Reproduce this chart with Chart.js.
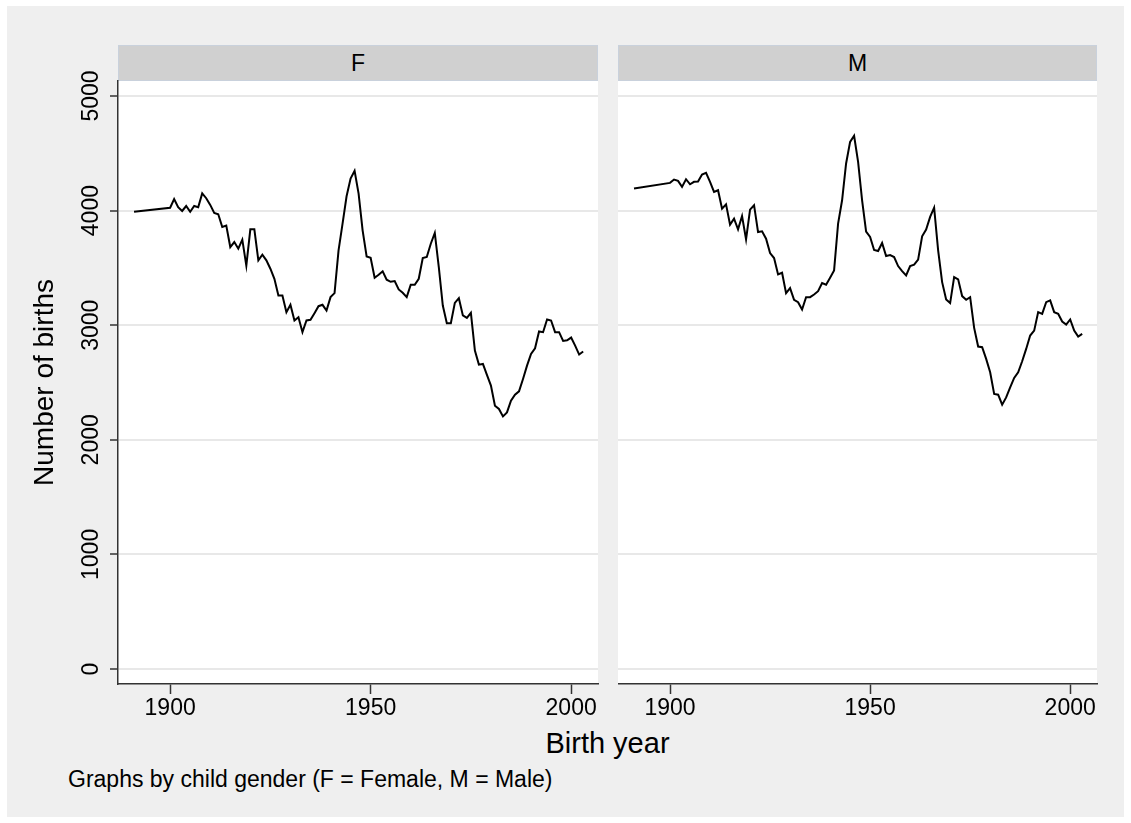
<!DOCTYPE html>
<html>
<head>
<meta charset="utf-8">
<script src="https://cdn.jsdelivr.net/npm/chart.js@4.4.1/dist/chart.umd.min.js"></script>
<style>
  body { margin: 0; background: #fff; font-family: "Liberation Sans", Arial, sans-serif; }
  #bg { position: absolute; left: 7px; top: 6px; width: 1117px; height: 811px; background: #efefef; }
  .strip { position: absolute; top: 45px; height: 34px; background: #d0d0d0; border: 1px solid #c9d1dc;
           font-size: 23px; line-height: 34px; text-align: center; color: #000; }
  canvas { position: absolute; top: 40px; }
  #xtitle { position: absolute; left: 118px; width: 979px; top: 727px; text-align: center; font-size: 29px; }
  #note { position: absolute; left: 68px; top: 766px; font-size: 23px; }
</style>
</head>
<body>
<div id="bg"></div>
<div class="strip" style="left:118px;width:478px;">F</div>
<div class="strip" style="left:618px;width:477px;">M</div>
<canvas id="chartF" width="600" height="681" style="left:0px;"></canvas>
<canvas id="chartM" width="481" height="681" style="left:618px;"></canvas>
<div id="xtitle">Birth year</div>
<div id="note">Graphs by child gender (F = Female, M = Male)</div>
<script>
// birth years (1891 then every year 1900-2003)
const years = [1891,
  1900, 1901, 1902, 1903, 1904, 1905, 1906, 1907, 1908, 1909,
  1910, 1911, 1912, 1913, 1914, 1915, 1916, 1917, 1918, 1919,
  1920, 1921, 1922, 1923, 1924, 1925, 1926, 1927, 1928, 1929,
  1930, 1931, 1932, 1933, 1934, 1935, 1936, 1937, 1938, 1939,
  1940, 1941, 1942, 1943, 1944, 1945, 1946, 1947, 1948, 1949,
  1950, 1951, 1952, 1953, 1954, 1955, 1956, 1957, 1958, 1959,
  1960, 1961, 1962, 1963, 1964, 1965, 1966, 1967, 1968, 1969,
  1970, 1971, 1972, 1973, 1974, 1975, 1976, 1977, 1978, 1979,
  1980, 1981, 1982, 1983, 1984, 1985, 1986, 1987, 1988, 1989,
  1990, 1991, 1992, 1993, 1994, 1995, 1996, 1997, 1998, 1999,
  2000, 2001, 2002, 2003];

// number of births, female
const birthsF = [3990,
  4025, 4100, 4030, 3997, 4040, 3990, 4040, 4030, 4150, 4108,
  4050, 3980, 3968, 3857, 3870, 3682, 3726, 3668, 3746, 3519,
  3837, 3837, 3566, 3615, 3566, 3493, 3405, 3260, 3260, 3114,
  3178, 3041, 3070, 2939, 3041, 3047, 3105, 3166, 3178, 3128,
  3245, 3280, 3653, 3886, 4125, 4280, 4347, 4149, 3828, 3600,
  3589, 3414, 3440, 3470, 3397, 3379, 3385, 3312, 3283, 3245,
  3353, 3353, 3405, 3586, 3595, 3711, 3805, 3507, 3172, 3018,
  3018, 3195, 3236, 3085, 3064, 3108, 2779, 2656, 2662, 2566,
  2473, 2298, 2269, 2204, 2239, 2341, 2394, 2423, 2531, 2647,
  2749, 2799, 2945, 2939, 3050, 3041, 2939, 2939, 2863, 2869,
  2892, 2822, 2744, 2770];

// number of births, male
const birthsM = [4192,
  4242, 4271, 4259, 4207, 4274, 4230, 4251, 4254, 4315, 4329,
  4251, 4163, 4178, 4017, 4055, 3878, 3930, 3837, 3953, 3749,
  4009, 4047, 3813, 3819, 3755, 3630, 3586, 3443, 3458, 3280,
  3324, 3222, 3201, 3137, 3245, 3245, 3268, 3297, 3367, 3353,
  3414, 3478, 3886, 4090, 4411, 4600, 4653, 4426, 4090, 3816,
  3770, 3656, 3647, 3717, 3604, 3612, 3595, 3516, 3472, 3434,
  3516, 3528, 3572, 3776, 3834, 3945, 4026, 3653, 3376, 3225,
  3193, 3420, 3400, 3254, 3222, 3245, 2977, 2814, 2808, 2706,
  2589, 2400, 2394, 2306, 2370, 2458, 2540, 2589, 2685, 2793,
  2910, 2953, 3114, 3099, 3201, 3216, 3114, 3099, 3032, 3006,
  3050, 2953, 2901, 2924];

const xTicks = [1900, 1950, 2000];
const yTicks = [0, 1000, 2000, 3000, 4000, 5000];

const FONT = '"Liberation Sans", Arial, sans-serif';

// white plot region
const plotBg = {
  id: 'plotBg',
  beforeDraw(chart) {
    const a = chart.chartArea;
    chart.ctx.save();
    chart.ctx.fillStyle = '#fff';
    chart.ctx.fillRect(a.left, a.top, a.right - a.left, a.bottom - a.top);
    chart.ctx.restore();
  }
};

// y tick labels turned 90 degrees, like the stata graph
const rotatedYLabels = {
  id: 'rotatedYLabels',
  afterDraw(chart) {
    const y = chart.scales.y;
    const ctx = chart.ctx;
    ctx.save();
    ctx.font = '23px ' + FONT;
    ctx.fillStyle = '#000';
    ctx.textAlign = 'center';
    ctx.textBaseline = 'alphabetic';
    y.ticks.forEach(t => {
      ctx.save();
      ctx.translate(y.right - 20, y.getPixelForValue(t.value));
      ctx.rotate(-Math.PI / 2);
      ctx.fillText(String(t.value), 0, 0);
      ctx.restore();
    });
    ctx.restore();
  }
};

function makeChart(id, values, showY) {
  const ctx = document.getElementById(id);
  return new Chart(ctx, {
    type: 'line',
    data: {
      datasets: [{
        data: years.map((yr, i) => ({x: yr, y: values[i]})),
        borderColor: '#000',
        borderWidth: 2,
        pointRadius: 0,
        fill: false,
        tension: 0
      }]
    },
    options: {
      responsive: false,
      animation: false,
      layout: {padding: {left: 0, right: 2, top: 41, bottom: 0}},
      scales: {
        x: {
          type: 'linear',
          min: 1887,
          max: 2006.7,
          afterBuildTicks: s => { s.ticks = xTicks.map(v => ({value: v})); },
          afterFit: s => { s.height = 37; },
          ticks: {
            font: {size: 23, family: FONT},
            color: '#000',
            padding: 1,
            maxRotation: 0,
            callback: v => String(v)
          },
          grid: {drawOnChartArea: false, drawTicks: true, tickLength: 10, tickColor: '#333', tickWidth: 1.5},
          border: {color: '#333', width: 1.5}
        },
        y: {
          min: -131,
          max: 5131,
          afterBuildTicks: s => { s.ticks = yTicks.map(v => ({value: v})); },
          afterFit: s => { s.width = showY ? 118 : 0; },
          ticks: {display: false},
          grid: {color: '#e8e8e8', lineWidth: 2, drawTicks: showY, tickLength: 8, tickColor: '#333', tickWidth: 1.5},
          border: {display: showY, color: '#333', width: 1.5},
          title: {
            display: showY,
            text: 'Number of births',
            font: {size: 28, family: FONT},
            color: '#000',
            padding: {top: 28, bottom: 0}
          }
        }
      },
      plugins: {
        legend: {display: false},
        tooltip: {enabled: false}
      }
    },
    plugins: showY ? [plotBg, rotatedYLabels] : [plotBg]
  });
}

makeChart('chartF', birthsF, true);
makeChart('chartM', birthsM, false);
</script>
</body>
</html>
